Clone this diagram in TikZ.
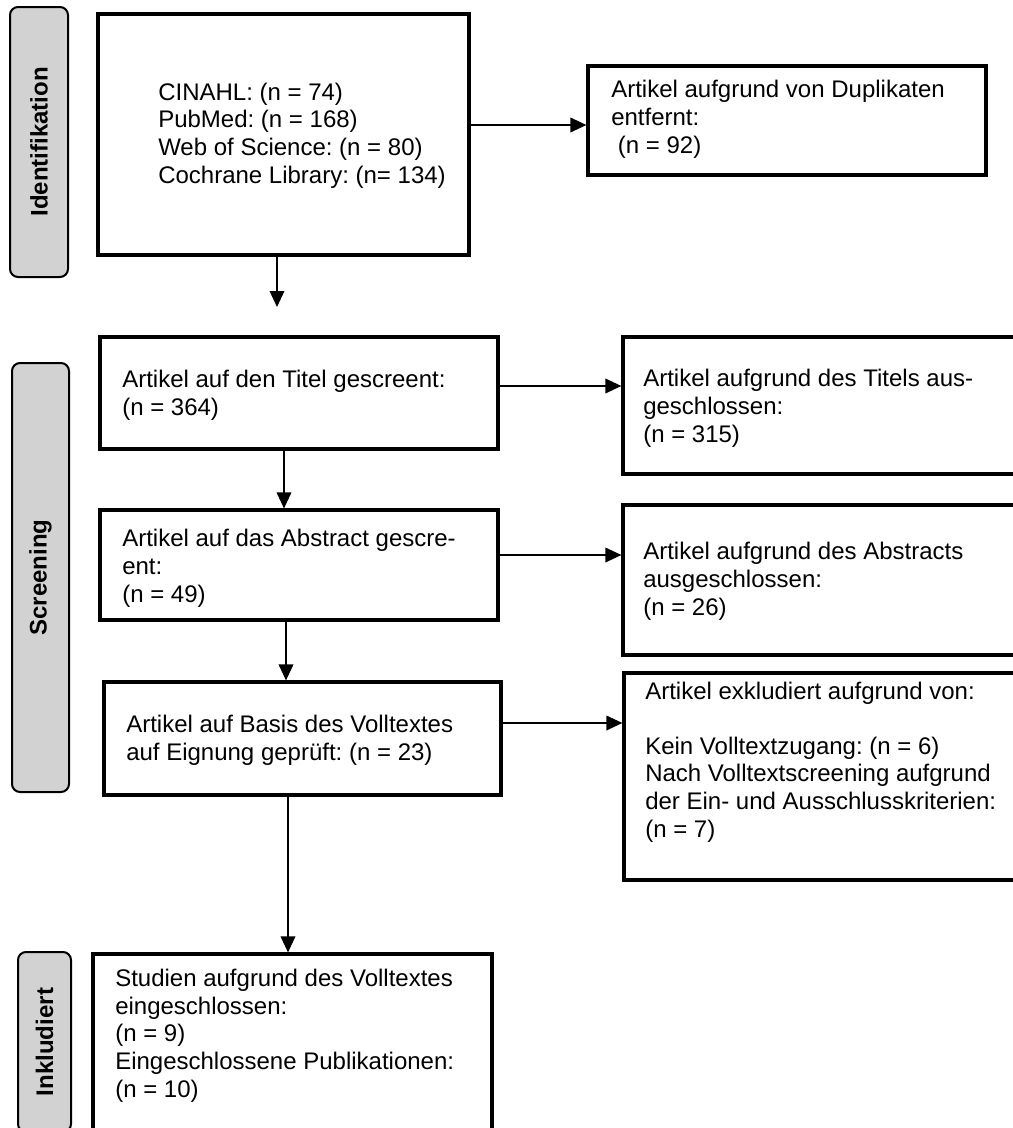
\documentclass[tikz,border=0pt]{standalone}
\usepackage{fontspec}
\setmainfont{Liberation Sans}
\frenchspacing
\usetikzlibrary{arrows.meta}
\tikzset{
  kasten/.style={draw, line width=2.4pt, inner sep=0pt},
  phase/.style={draw, line width=1.5pt, fill=gray!35, rounded corners=6pt, inner sep=0pt,
    rotate=90, font=\bfseries\fontsize{18pt}{20pt}\selectfont},
  beschr/.style={anchor=base west, align=left, inner sep=0pt, font=\fontsize{18pt}{20.7pt}\selectfont},
  pfeil/.style={line width=1pt, -{Triangle[length=12pt, width=11pt]}}
}

\begin{document}
\begin{tikzpicture}[x=0.75pt, y=-0.75pt]
  \useasboundingbox (0,0) rectangle (1013,1128);
  \clip (0,0) rectangle (1013,1128);
  % Phasen links
  \node[phase, minimum width=270*0.75pt, minimum height=58*0.75pt] (ident) at (39,142) {Identifikation};
  \node[phase, minimum width=429*0.75pt, minimum height=57*0.75pt] (screen) at (40.5,577.5) {Screening};
  \node[phase, minimum width=180*0.75pt, minimum height=53*0.75pt] (inkludiert) at (44.5,1042) {Inkludiert};
  % Kaesten
  \node[kasten, minimum width=371*0.75pt, minimum height=241*0.75pt] (quellen) at (283.5,134.5) {};
  \node[kasten, minimum width=398*0.75pt, minimum height=109*0.75pt] (dup) at (787,120.5) {};
  \node[kasten, minimum width=398*0.75pt, minimum height=112*0.75pt] (titel) at (299,393) {};
  \node[kasten, minimum width=407*0.75pt, minimum height=137*0.75pt] (titelaus) at (826.5,405.5) {};
  \node[kasten, minimum width=398*0.75pt, minimum height=110*0.75pt] (abstract) at (299,565) {};
  \node[kasten, minimum width=407*0.75pt, minimum height=150*0.75pt] (abstractaus) at (826.5,580) {};
  \node[kasten, minimum width=397*0.75pt, minimum height=113*0.75pt] (volltext) at (302.5,738.5) {};
  \node[kasten, minimum width=406*0.75pt, minimum height=207*0.75pt] (volltextaus) at (827,776.5) {};
  \node[kasten, minimum width=399*0.75pt, minimum height=181*0.75pt] (inkl) at (292.5,1044.5) {};
  % Texte (Anker: Grundlinie der letzten Zeile)
  \node[beschr] (quellen-t) at (158,183) {CINAHL: (n = 74)\\PubMed: (n = 168)\\Web of Science: (n = 80)\\Cochrane Library: (n= 134)};
  \node[beschr] (dup-t) at (611,153) {Artikel aufgrund von Duplikaten\\entfernt:\\{}\ (n = 92)};
  \node[beschr] (titel-t) at (122,415) {Artikel auf den Titel gescreent:\\(n = 364)};
  \node[beschr] (titelaus-t) at (643,442) {Artikel aufgrund des Titels aus-\\geschlossen:\\(n = 315)};
  \node[beschr] (abstract-t) at (122,602) {Artikel auf das Abstract gescre-\\ent:\\(n = 49)};
  \node[beschr] (abstractaus-t) at (643,615) {Artikel aufgrund des Abstracts\\ausgeschlossen:\\(n = 26)};
  \node[beschr] (volltext-t) at (126,760) {Artikel auf Basis des Volltextes\\auf Eignung geprüft: (n = 23)};
  \node[beschr] (volltextaus-t) at (645,837) {Artikel exkludiert aufgrund von:\\[20.7pt]Kein Volltextzugang: (n = 6)\\Nach Volltextscreening aufgrund\\der Ein- und Ausschlusskriterien:\\(n = 7)};
  \node[beschr] (inkl-t) at (115,1097) {Studien aufgrund des Volltextes\\eingeschlossen:\\(n = 9)\\Eingeschlossene Publikationen:\\(n = 10)};
  % Pfeile
  \coordinate (quellen-ende) at (277,307);
  \draw[pfeil] (quellen.south -| quellen-ende) -- (quellen-ende);
  \draw[pfeil] (quellen.east |- 0,125) -- (dup.west |- 0,125);
  \draw[pfeil] (titel.east |- 0,386) -- (titelaus.west |- 0,386);
  \draw[pfeil] (abstract.east |- 0,555) -- (abstractaus.west |- 0,555);
  \draw[pfeil] (volltext.east |- 0,723) -- (volltextaus.west |- 0,723);
  \draw[pfeil] (titel.south -| 284,0) -- (abstract.north -| 284,0);
  \draw[pfeil] (abstract.south -| 286,0) -- (volltext.north -| 286,0);
  \draw[pfeil] (volltext.south -| 288,0) -- (inkl.north -| 288,0);
\end{tikzpicture}
\end{document}
